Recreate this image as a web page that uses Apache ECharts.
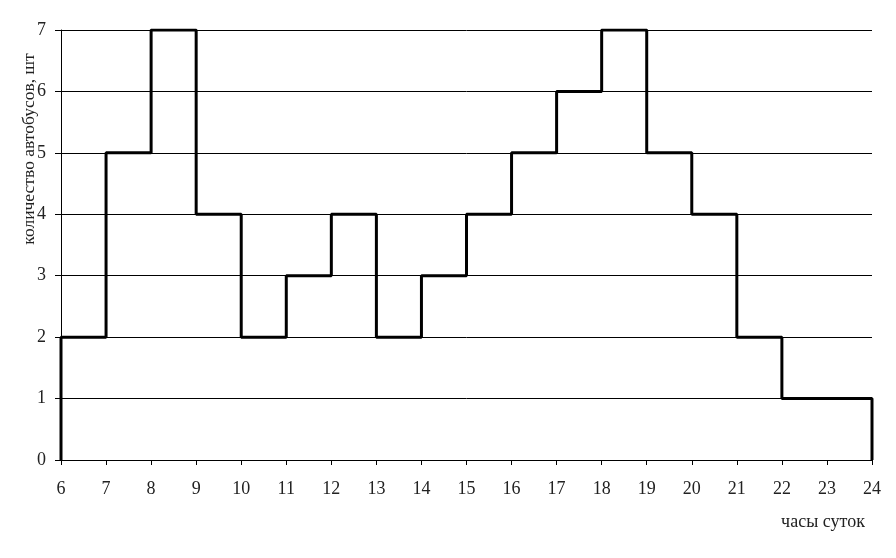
<!DOCTYPE html>
<html><head><meta charset="utf-8">
<script src="https://cdn.jsdelivr.net/npm/echarts@6/dist/echarts.min.js"></script>
<style>html,body{margin:0;padding:0;background:#fff}#c{width:896px;height:558px}</style>
</head><body><div id="c"></div>
<script>
const hours = [6,7,8,9,10,11,12,13,14,15,16,17,18,19,20,21,22,23];
const buses = [2,5,7,4,2,3,4,2,3,4,5,6,7,5,4,2,1,1];
const xTicks = [6,24];
const yTicks = [0,7];
const xName = 'часы суток';
const yName = 'количество автобусов, шт';

const pts = [[hours[0],0]];
hours.forEach((h,i)=>pts.push([h,buses[i]]));
pts.push([hours[hours.length-1]+1,0]);

const F = 'Liberation Serif';
const chart = echarts.init(document.getElementById('c'));
chart.setOption({
  animation:false,
  backgroundColor:'#fff',
  grid:{left:61,right:24,top:30,bottom:98},
  xAxis:{type:'value',min:xTicks[0],max:xTicks[1],interval:1,
    axisLine:{lineStyle:{color:'#000',width:1}},
    axisTick:{show:true,length:5,lineStyle:{color:'#000'}},
    axisLabel:{color:'#222',fontFamily:F,fontSize:18,margin:20},
    splitLine:{show:false}},
  yAxis:{type:'value',min:yTicks[0],max:yTicks[1],interval:1,
    axisLine:{show:true,lineStyle:{color:'#000',width:1}},
    axisTick:{show:true,length:6,lineStyle:{color:'#000'}},
    axisLabel:{color:'#222',fontFamily:F,fontSize:18,margin:15},
    splitLine:{show:true,lineStyle:{color:'#000',width:1}}},
  graphic:[
    {type:'text',x:823,y:522,style:{text:xName,font:'18px "Liberation Serif"',fill:'#222',align:'center',verticalAlign:'middle'}},
    {type:'text',x:29,y:149,rotation:Math.PI/2,style:{text:yName,font:'17.5px "Liberation Serif"',fill:'#222',align:'center',verticalAlign:'middle'}}
  ],
  series:[{type:'line',step:'end',data:pts,symbol:'none',
    lineStyle:{color:'#000',width:3}}]
});
</script></body></html>
